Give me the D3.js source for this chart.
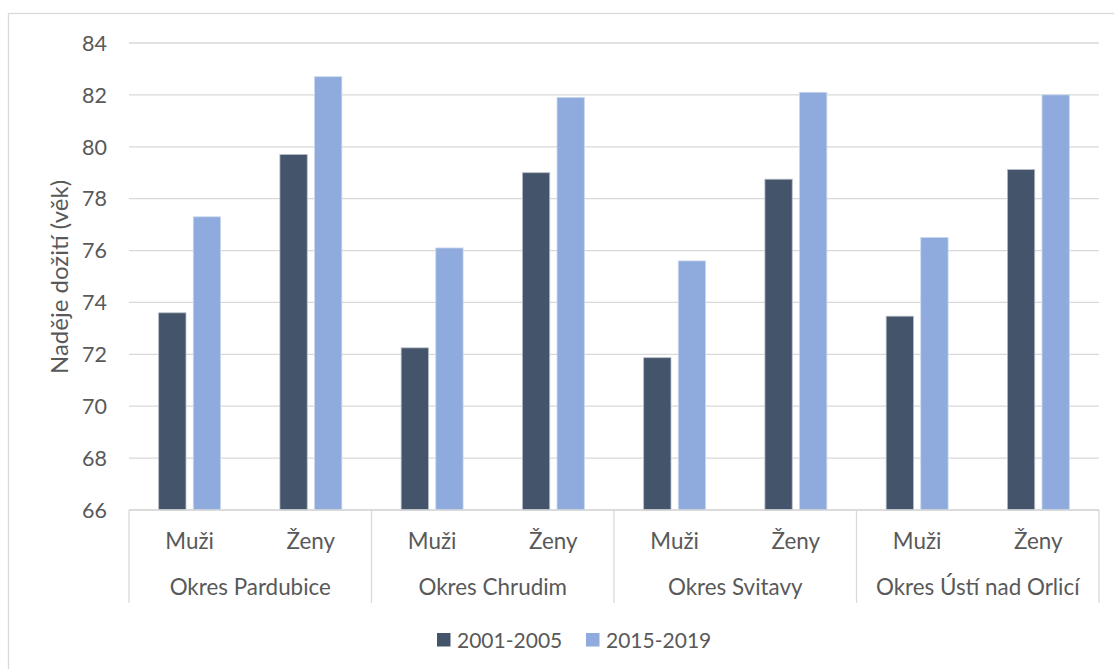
<!DOCTYPE html>
<meta charset="utf-8">
<style>
  body { margin: 0; background: #fff; }
  text { font-family: Lato, "Open Sans", sans-serif; fill: #595959; }
  .grid line { stroke: #d9d9d9; stroke-width: 1.3px; }
</style>
<body>
<svg id="chart" width="1114" height="669"></svg>
<script src="https://d3js.org/d3.v7.min.js"></script>
<script>

// data
const districts = ["Okres Pardubice", "Okres Chrudim", "Okres Svitavy", "Okres Ústí nad Orlicí"];
const sexes = ["Muži", "Ženy"];
const seriesNames = ["2001-2005", "2015-2019"];
const values2001 = [73.6, 79.7, 72.25, 79.0, 71.87, 78.75, 73.47, 79.12];
const values2015 = [77.3, 82.7, 76.1, 81.9, 75.6, 82.1, 76.5, 82.0];
const yTicks = [66, 68, 70, 72, 74, 76, 78, 80, 82, 84];
const colors = ["#44546a", "#8faadc"];

const svg = d3.select('#chart');

// chart frame
svg.append('rect')
  .attr('x', 8.5).attr('y', 13.5)
  .attr('width', 1120).attr('height', 680)
  .attr('fill', 'none')
  .attr('stroke', '#d9d9d9')
  .attr('stroke-width', 1.3);

const plotLeft = 129, plotRight = 1099, plotTop = 43, plotBottom = 510;

const y = d3.scaleLinear().domain([66, 84]).range([plotBottom, plotTop]);

// one band per district/sex pair
const cats = [];
districts.forEach(function(d, i) {
  sexes.forEach(function(s, j) {
    cats.push({ district: d, sex: s, key: i + '-' + j, v: [values2001[i * 2 + j], values2015[i * 2 + j]] });
  });
});

const x0 = d3.scaleBand().domain(cats.map(d => d.key)).range([plotLeft, plotRight]);
const x1 = d3.scaleBand().domain(seriesNames).range([0, x0.bandwidth()])
  .paddingInner(0.211).paddingOuter(0.857);
const xd = d3.scaleBand().domain(districts).range([plotLeft, plotRight]);

// gridlines
const grid = svg.append('g').attr('class', 'grid');
grid.selectAll('line')
  .data(yTicks)
  .enter().append('line')
  .attr('x1', plotLeft).attr('x2', plotRight)
  .attr('y1', d => y(d)).attr('y2', d => y(d));

// y tick labels
svg.append('g').selectAll('text')
  .data(yTicks)
  .enter().append('text')
  .attr('x', 107)
  .attr('y', d => y(d))
  .attr('dy', '0.36em')
  .attr('text-anchor', 'end')
  .style('font-size', '21.5px')
  .text(d => d);

// bars
const groups = svg.append('g').selectAll('g')
  .data(cats)
  .enter().append('g')
  .attr('transform', d => `translate(${x0(d.key)},0)`);

groups.selectAll('rect')
  .data(d => d.v.map((v, k) => ({ name: seriesNames[k], v: v, k: k })))
  .enter().append('rect')
  .attr('x', d => x1(d.name))
  .attr('width', x1.bandwidth())
  .attr('y', d => y(d.v))
  .attr('height', d => y(66) - y(d.v))
  .attr('fill', d => colors[d.k])
  .attr('stroke', d => d.k === 0 ? '#b4bcc7' : '#c9d6ee')
  .attr('stroke-width', 0.8);

// category axis
const axisG = svg.append('g').attr('class', 'grid');
axisG.append('line')
  .attr('x1', plotLeft).attr('x2', plotRight)
  .attr('y1', plotBottom).attr('y2', plotBottom);
axisG.selectAll('.sep')
  .data(districts.concat(['end']))
  .enter().append('line')
  .attr('class', 'sep')
  .attr('x1', (d, i) => plotLeft + i * xd.bandwidth())
  .attr('x2', (d, i) => plotLeft + i * xd.bandwidth())
  .attr('y1', plotBottom).attr('y2', 603);

svg.append('g').selectAll('text')
  .data(cats)
  .enter().append('text')
  .attr('x', d => x0(d.key) + x0.bandwidth() / 2)
  .attr('y', 549)
  .attr('text-anchor', 'middle')
  .style('font-size', '22.4px')
  .text(d => d.sex);

svg.append('g').selectAll('text')
  .data(districts)
  .enter().append('text')
  .attr('x', d => xd(d) + xd.bandwidth() / 2)
  .attr('y', 595)
  .attr('text-anchor', 'middle')
  .style('font-size', '22.4px')
  .text(d => d);

// y axis title
svg.append('text')
  .attr('transform', 'translate(68,277) rotate(-90)')
  .attr('text-anchor', 'middle')
  .style('font-size', '24px')
  .text('Naděje dožití (věk)');

// legend
const legend = svg.append('g').selectAll('g')
  .data(seriesNames)
  .enter().append('g')
  .attr('transform', (d, i) => `translate(${437 + i * 149},633)`);
legend.append('rect')
  .attr('width', 13.5).attr('height', 13.5)
  .attr('fill', (d, i) => colors[i]);
legend.append('text')
  .attr('x', 20).attr('y', 7)
  .attr('dy', '0.36em')
  .style('font-size', '21px')
  .text(d => d);

</script>
</body>
